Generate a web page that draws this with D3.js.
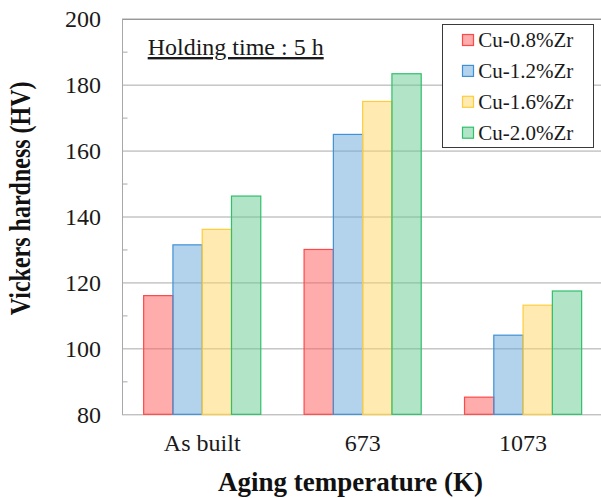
<!DOCTYPE html>
<html>
<head>
<meta charset="utf-8">
<script src="https://cdn.jsdelivr.net/npm/d3@7.9.0/dist/d3.min.js"></script>
<style>
  body { margin: 0; background: #fff; }
  svg { display: block; font-family: "Liberation Serif", "Times New Roman", serif; }
</style>
</head>
<body>
<svg id="chart" width="601" height="498"></svg>
<script>
// data
const categories = ['As built', '673', '1073'];
const seriesNames = ['Cu-0.8%Zr', 'Cu-1.2%Zr', 'Cu-1.6%Zr', 'Cu-2.0%Zr'];
const cu08 = [116, 130, 85.2];
const cu12 = [131.4, 164.9, 104];
const cu16 = [136.1, 174.9, 113.1];
const cu20 = [146.2, 183.3, 117.4];
const majorTicks = [80, 100, 120, 140, 160, 180, 200];
const minorTicks = [90, 110, 130, 150, 170, 190];

const seriesValues = [cu08, cu12, cu16, cu20];
const fills = ['#ff5a5a', '#68a8dc', '#ffd766', '#66cc92'];
const strokes = ['#ff4848', '#3f90d4', '#ffcc3a', '#30bf6a'];

const svg = d3.select('#chart');
const plotLeft = 122, plotTop = 18.7, plotBottom = 414.3, plotRight = 603.3;

let y = d3.scaleLinear().domain([80, 200]).range([plotBottom, plotTop]);
let x0 = d3.scaleBand().domain(categories).range([plotLeft, plotRight])
    .paddingInner(0.27).paddingOuter(0.135);
let x1 = d3.scaleBand().domain(seriesNames).range([0, x0.bandwidth()]);

// gridlines
svg.append('g')
    .attr('transform', `translate(${plotLeft},0)`)
    .call(d3.axisLeft(y).tickValues(majorTicks).tickSize(-(601 - plotLeft)).tickFormat(''))
    .call(g => g.select('.domain').remove())
    .call(g => g.selectAll('line').attr('stroke', (d) => d === 200 ? '#6a6a6a' : '#a8a8a8'));

// left axis line + minor ticks inside
svg.append('g')
    .attr('transform', `translate(${plotLeft},0)`)
    .call(d3.axisRight(y).tickValues(minorTicks).tickSize(5.5).tickFormat('').tickSizeOuter(0))
    .call(g => g.select('.domain').attr('stroke', '#a8a8a8'))
    .call(g => g.selectAll('line').attr('stroke', '#a8a8a8'));

// y tick labels
svg.append('g')
    .attr('transform', `translate(${plotLeft},0)`)
    .call(d3.axisLeft(y).tickValues(majorTicks).tickSize(0).tickPadding(21))
    .call(g => g.select('.domain').remove())
    .call(g => g.selectAll('text')
        .attr('dy', '0.34em')
        .attr('font-family', '"Liberation Serif", serif')
        .attr('font-size', 24).attr('fill', '#1a1a1a'));

// bars
let groups = svg.append('g').selectAll('g')
    .data(categories)
    .join('g')
    .attr('transform', (d) => `translate(${x0(d)},0)`);

groups.selectAll('rect')
    .data((d, i) => seriesNames.map((s, j) => ({ s: s, j: j, v: seriesValues[j][i] })))
    .join('rect')
    .attr('x', (d) => x1(d.s))
    .attr('y', (d) => y(d.v))
    .attr('width', x1.bandwidth())
    .attr('height', (d) => y(80) - y(d.v))
    .attr('fill', (d) => fills[d.j])
    .attr('fill-opacity', 0.5)
    .attr('stroke', (d) => strokes[d.j])
    .attr('stroke-width', 1.2);

// x tick labels
svg.append('g')
    .attr('transform', `translate(0,${plotBottom})`)
    .call(d3.axisBottom(x0).tickSize(0))
    .call(g => g.select('.domain').remove())
    .call(g => g.selectAll('text')
        .attr('y', 36.7).attr('dy', 0)
        .attr('font-family', '"Liberation Serif", serif')
        .attr('font-size', 24).attr('fill', '#1a1a1a'));

// axis titles
svg.append('text')
    .attr('x', 350.5).attr('y', 491)
    .attr('text-anchor', 'middle')
    .attr('font-weight', 'bold')
    .attr('font-size', 27)
    .attr('fill', '#111')
    .text('Aging temperature (K)');

// y title glyphs are a bit taller than wide in the picture
svg.append('text')
    .attr('transform', 'translate(29.5,198.3) rotate(-90) scale(1,1.22)')
    .attr('text-anchor', 'middle')
    .attr('font-weight', 'bold')
    .attr('font-size', 24)
    .attr('fill', '#111')
    .text('Vickers hardness (HV)');

// annotation
svg.append('text')
    .attr('x', 147.7).attr('y', 55)
    .attr('font-size', 24)
    .attr('fill', '#1a1a1a')
    .style('text-decoration', 'underline')
    .text('Holding time : 5 h');

// legend
let legend = svg.append('g');
legend.append('rect')
    .attr('x', 442.5).attr('y', 24.5)
    .attr('width', 151).attr('height', 123)
    .attr('fill', '#fff').attr('stroke', '#3a3a3a').attr('stroke-width', 1);

seriesNames.forEach((s, j) => {
    let cy = 40 + j * 30.9;
    legend.append('rect')
        .attr('x', 462.5).attr('y', cy - 5.5)
        .attr('width', 11).attr('height', 11)
        .attr('fill', fills[j]).attr('fill-opacity', 0.5)
        .attr('stroke', strokes[j]).attr('stroke-width', 1.2);
    legend.append('text')
        .attr('x', 478.3).attr('y', cy + 7)
        .attr('font-size', 21)
        .attr('fill', '#1a1a1a')
        .text(s);
});
</script>
</body>
</html>
